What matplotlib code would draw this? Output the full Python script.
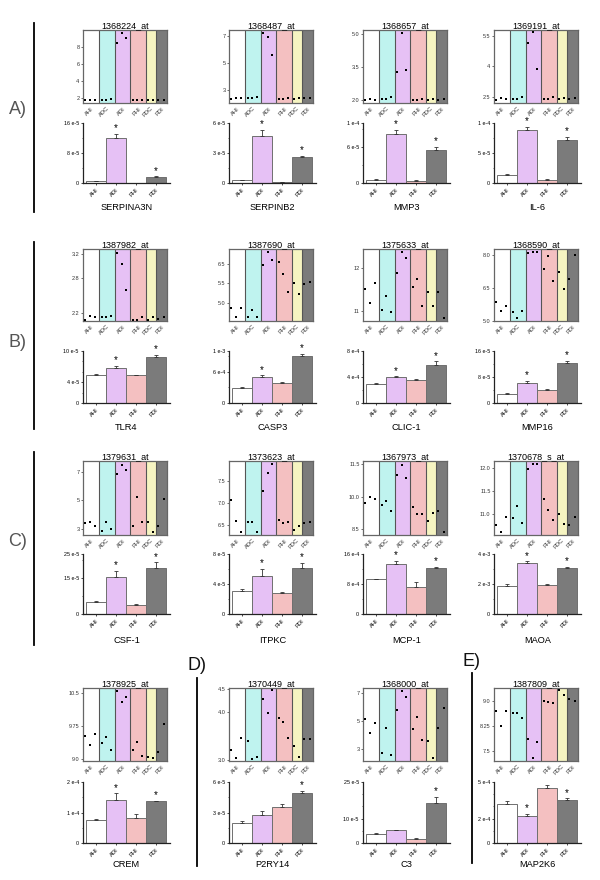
import numpy as np
import matplotlib
matplotlib.use('Agg')
import matplotlib.pyplot as plt
from matplotlib.lines import Line2D
from matplotlib.ticker import AutoMinorLocator

plt.rcParams['font.family'] = ['Liberation Sans', 'DejaVu Sans']

groups = ['AHI', 'ADC', 'ADI', 'PHI', 'PDC', 'PDI']
bar_groups = ['AHI', 'ADI', 'PHI', 'PDI']

probes = ['1368224_at', '1368487_at', '1368657_at', '1369191_at',
          '1387982_at', '1387690_at', '1375633_at', '1368590_at',
          '1379631_at', '1373623_at', '1367973_at', '1370678_s_at',
          '1378925_at', '1370449_at', '1368000_at', '1387809_at']
genes = ['SERPINA3N', 'SERPINB2', 'MMP3', 'IL-6',
         'TLR4', 'CASP3', 'CLIC-1', 'MMP16',
         'CSF-1', 'ITPKC', 'MCP-1', 'MAOA',
         'CREM', 'P2RY14', 'C3', 'MAP2K6']

# expression values of each sample, one list per group (rows follow genes)
dots_AHI = [[1.8, 1.8, 1.8], [2.3, 2.35, 2.35], [2.0, 2.05, 2.0], [2.35, 2.45, 2.38],
            [2.08, 2.15, 2.12], [4.86, 4.65, 4.86], [11.5, 11.18, 11.63], [5.88, 5.44, 5.69],
            [3.44, 3.47, 3.21], [7.08, 6.59, 6.35], [9.69, 9.97, 9.89], [10.77, 10.63, 10.94],
            [9.52, 9.31, 9.57], [3.2, 3.04, 3.46], [5.1, 4.15, 4.85], [8.72, 8.26, 8.7]]
dots_ADC = [[1.85, 1.85, 1.9], [2.35, 2.35, 2.45], [2.05, 2.05, 2.12], [2.4, 2.4, 2.5],
            [2.12, 2.12, 2.15], [4.65, 4.83, 4.65], [11.02, 11.33, 10.98], [5.4, 5.15, 5.44],
            [2.88, 3.47, 2.98], [6.58, 6.58, 6.35], [9.6, 9.78, 9.32], [10.93, 11.18, 10.81],
            [9.35, 9.5, 9.19], [3.39, 3.02, 3.06], [2.66, 4.47, 2.54], [8.66, 8.66, 8.51]]
dots_ADI = [[8.5, 9.67, 9.05], [7.19, 6.93, 5.55], [3.28, 5.08, 3.38], [5.14, 5.66, 3.87],
            [3.23, 3.03, 2.59], [5.97, 6.31, 6.09], [11.87, 12.36, 12.23], [8.07, 8.13, 8.13],
            [6.86, 7.49, 7.14], [7.28, 7.69, 7.89], [10.99, 11.48, 10.87], [11.97, 12.07, 12.07],
            [10.54, 10.3, 10.4], [4.29, 3.99, 4.47], [5.8, 7.17, 6.7], [7.88, 7.29, 7.78]]
dots_PHI = [[1.8, 1.8, 1.8], [2.3, 2.3, 2.4], [2.0, 2.0, 2.05], [2.4, 2.42, 2.48],
            [2.07, 2.08, 2.13], [6.05, 5.73, 5.29], [11.54, 11.74, 11.1], [7.37, 7.94, 6.82],
            [3.23, 5.23, 3.47], [6.61, 6.55, 6.58], [9.52, 9.2, 9.2], [11.33, 11.09, 10.89],
            [9.21, 9.39, 9.06], [3.89, 3.79, 3.45], [4.4, 5.27, 3.63], [9.0, 8.98, 8.94]]
dots_PDC = [[1.8, 1.85], [2.3, 2.4], [2.0, 2.05], [2.38, 2.45],
            [2.08, 2.12], [5.5, 5.22], [11.43, 11.11], [7.21, 6.46],
            [3.47, 2.77], [6.39, 6.48], [8.85, 9.25], [11.01, 10.8],
            [9.04, 9.01], [3.29, 3.05], [3.51, 2.3], [9.33, 9.19]]
dots_PDI = [[1.8, 1.8], [2.35, 2.35], [2.0, 2.05], [2.4, 2.43],
            [2.1, 2.12], [5.48, 5.54], [11.43, 10.82], [6.9, 7.97],
            [3.23, 5.09], [6.55, 6.58], [9.32, 8.38], [10.78, 10.95],
            [9.16, 9.8], [3.44, 3.44], [4.45, 5.95], [9.08, 9.0]]

dot_ylim = [(1.46, 9.98), (2.0, 7.44), (1.85, 5.2), (2.2, 5.78),
            (2.06, 3.29), (4.54, 6.375), (10.76, 12.43), (5.0, 8.26),
            (2.58, 7.77), (6.28, 7.96), (8.22, 11.65), (10.56, 12.14),
            (8.95, 10.61), (2.97, 4.52), (2.1, 7.36), (7.21, 9.4)]
dot_ticks = [[2, 4, 6, 8], [3, 5, 7], [2.0, 3.5, 5.0], [2.5, 4, 5.5],
             [2.2, 2.8, 3.2], [5.0, 5.5, 6.0], [11, 12], [5.0, 6.5, 8.0],
             [3, 5, 7], [6.5, 7.0, 7.5], [8.5, 10.0, 11.5], [11.0, 11.5, 12.0],
             [9.0, 9.75, 10.5], [3.0, 4.0, 4.5], [3, 5, 7], [7.5, 8.25, 9.0]]
dot_tick_labels = [['2', '4', '6', '8'], ['3', '5', '7'], ['2.0', '3.5', '5.0'], ['2.5', '4', '5.5'],
                   ['2.2', '2.8', '3.2'], ['5.0', '5.5', '6.5'], ['11', '12'], ['5.0', '6.5', '8.0'],
                   ['3', '5', '7'], ['6.5', '7.0', '7.5'], ['8.5', '10.0', '11.5'], ['11.0', '11.5', '12.0'],
                   ['9.0', '9.75', '10.5'], ['3.0', '4.0', '4.5'], ['3', '5', '7'], ['7.5', '8.25', '9.0']]

# qPCR means (AHI, ADI, PHI, PDI) and upper error
bar_mean = [[0.6e-5, 12.1e-5, 0.1e-5, 1.5e-5], [0.27e-5, 4.68e-5, 0.1e-5, 2.58e-5],
            [0.55e-5, 8.2e-5, 0.4e-5, 5.55e-5], [1.32e-5, 8.85e-5, 0.57e-5, 7.2e-5],
            [5.4e-5, 6.7e-5, 5.3e-5, 8.8e-5], [2.85e-4, 5.0e-4, 3.85e-4, 9.05e-4],
            [2.97e-4, 4.02e-4, 3.54e-4, 5.86e-4], [2.84e-5, 6.2e-5, 3.87e-5, 12.2e-5],
            [4.97e-5, 15.3e-5, 3.73e-5, 19.1e-5], [3.1e-5, 5.1e-5, 2.8e-5, 6.15e-5],
            [9.27e-4, 13.3e-4, 7.26e-4, 12.3e-4], [1.86e-3, 3.43e-3, 1.92e-3, 3.05e-3],
            [0.765e-4, 1.41e-4, 0.83e-4, 1.38e-4], [1.98e-5, 2.77e-5, 3.54e-5, 4.93e-5],
            [3.55e-5, 5.26e-5, 1.7e-5, 16.3e-5], [3.2e-4, 2.22e-4, 4.5e-4, 3.54e-4]]
bar_err = [[0.05e-5, 0.9e-5, 0.02e-5, 0.27e-5], [0.03e-5, 0.62e-5, 0.02e-5, 0.17e-5],
           [0.2e-5, 0.6e-5, 0.05e-5, 0.45e-5], [0.23e-5, 0.55e-5, 0.08e-5, 0.5e-5],
           [0.1e-5, 0.5e-5, 0.1e-5, 0.4e-5], [0.15e-4, 0.3e-4, 0.25e-4, 0.4e-4],
           [0.13e-4, 0.08e-4, 0.22e-4, 0.54e-4], [0.16e-5, 0.6e-5, 0.53e-5, 0.8e-5],
           [0.43e-5, 2.7e-5, 0.37e-5, 2.4e-5], [0.2e-5, 0.88e-5, 0.1e-5, 0.7e-5],
           [0.13e-4, 0.8e-4, 1.34e-4, 0.3e-4], [0.11e-3, 0.08e-3, 0.11e-3, 0.11e-3],
           [0.035e-4, 0.22e-4, 0.11e-4, 0.01e-4], [0.16e-5, 0.39e-5, 0.26e-5, 0.23e-5],
           [0.43e-5, 0.24e-5, 0.4e-5, 2.45e-5], [0.26e-4, 0.17e-4, 0.28e-4, 0.11e-4]]
bar_star = [[0, 1, 0, 1]] * 12 + [[0, 1, 0, 1], [0, 0, 0, 1], [0, 0, 0, 1], [0, 1, 0, 1]]

bar_ticks = [[0, 8e-5, 16e-5], [0, 3e-5, 6e-5], [0, 6e-5, 1e-4], [0, 5e-5, 1e-4],
             [0, 4e-5, 10e-5], [0, 6e-4, 1e-3], [0, 4e-4, 8e-4], [0, 8e-5, 16e-5],
             [0, 15e-5, 25e-5], [0, 4e-5, 8e-5], [0, 8e-4, 16e-4], [0, 2e-3, 4e-3],
             [0, 1e-4, 2e-4], [0, 3e-5, 6e-5], [0, 10e-5, 25e-5], [0, 2e-4, 5e-4]]
bar_tick_labels = [['0', '8 e-5', '16 e-5'], ['0', '3 e-5', '6 e-5'], ['0', '6 e-5', '1 e-4'], ['0', '5 e-5', '1 e-4'],
                   ['0', '4 e-5', '10 e-5'], ['0', '6 e-4', '1 e-3'], ['0', '4 e-4', '8 e-4'], ['0', '8 e-5', '16 e-5'],
                   ['0', '15 e-5', '25 e-5'], ['0', '4 e-5', '8 e-5'], ['0', '8 e-4', '16 e-4'], ['0', '2 e-3', '4 e-3'],
                   ['0', '1 e-4', '2 e-4'], ['0', '3 e-5', '6 e-5'], ['0', '10 e-5', '25 e-5'], ['0', '2 e-4', '5 e-4']]

band_colors = ['white', '#bff3ef', '#e6c1f5', '#f4c0c1', '#f6f4c1', '#7b7b7b']
bar_colors = ['white', '#e6c1f5', '#f4c0c1', '#7b7b7b']
band_w = [48, 47, 45, 47, 28, 34]
dot_frac = {3: [0.15, 0.45, 0.75], 2: [0.22, 0.7]}

W, H = 600, 880
col_x = [83, 229, 363, 494]
dot_top = [30, 249, 461, 688]
dot_bot = [103, 321, 535, 761]
bar_top = [123, 351, 554, 782]
bar_bot = [183, 403, 614, 843]
label_y = [208, 428, 640, 864]

fig = plt.figure(figsize=(W / 100, H / 100), dpi=100)


def px_axes(x0, y0, x1, y1):
    return fig.add_axes([x0 / W, 1 - y1 / H, (x1 - x0) / W, (y1 - y0) / H])


edges = np.concatenate([[0], np.cumsum(band_w)])
for i in range(len(genes)):
    r, c = i // 4, i % 4
    x0 = col_x[c]

    # microarray dot plot
    ax = px_axes(x0, dot_top[r], x0 + 84, dot_bot[r])
    vals = [dots_AHI[i], dots_ADC[i], dots_ADI[i], dots_PHI[i], dots_PDC[i], dots_PDI[i]]
    for g in range(6):
        ax.axvspan(edges[g], edges[g + 1], color=band_colors[g], lw=0, zorder=0)
        xs = edges[g] + np.array(dot_frac[len(vals[g])]) * band_w[g]
        ax.plot(xs, vals[g], 's', ms=1.5, color='black', mew=0, zorder=3)
    for e in edges[1:-1]:
        ax.axvline(e, color='#555555', lw=0.8, zorder=2)
    ax.set_xlim(0, edges[-1])
    ax.set_ylim(dot_ylim[i])
    ax.set_yticks(dot_ticks[i])
    ax.set_yticklabels(dot_tick_labels[i])
    ax.set_xticks((edges[:-1] + edges[1:]) / 2)
    ax.set_xticklabels(groups, rotation=45, ha='right', rotation_mode='anchor')
    ax.tick_params(axis='y', length=1.5, width=0.5, labelsize=4, pad=1, colors='#333333')
    ax.tick_params(axis='x', length=0, labelsize=4.2, pad=2, colors='#333333')
    for s in ax.spines.values():
        s.set_color('#666666')
        s.set_linewidth(0.9)
    ax.set_title(probes[i], fontsize=6.5, pad=1.5)

    # qPCR bars
    bx = px_axes(x0, bar_top[r], x0 + 87, bar_bot[r])
    x = np.arange(4)
    bx.bar(x, bar_mean[i], width=1.0, color=bar_colors, edgecolor='#6f6f6f', lw=0.7)
    bx.errorbar(x, bar_mean[i], yerr=[np.zeros(4), bar_err[i]], fmt='none',
                ecolor='#333333', elinewidth=0.6, capsize=1.2, capthick=0.6)
    for k in range(4):
        if bar_star[i][k]:
            bx.annotate('*', (k, bar_mean[i][k] + bar_err[i][k]), xytext=(0, 0.5),
                        textcoords='offset points', ha='center', va='bottom', fontsize=7)
    bx.set_xlim(-0.67, 3.72)
    bx.set_ylim(0, bar_ticks[i][-1])
    bx.set_yticks(bar_ticks[i])
    bx.set_yticklabels(bar_tick_labels[i])
    bx.yaxis.set_minor_locator(AutoMinorLocator(2))
    bx.set_xticks(x)
    bx.set_xticklabels(bar_groups, rotation=45, ha='right', rotation_mode='anchor')
    bx.tick_params(axis='y', which='major', length=1.5, width=0.5, labelsize=3.9, pad=1.5)
    bx.tick_params(axis='x', which='major', length=1.5, width=0.5, labelsize=4.2, pad=1.5)
    bx.tick_params(axis='y', which='minor', length=1, width=0.4)
    bx.spines['top'].set_visible(False)
    bx.spines['right'].set_visible(False)
    for s in ['left', 'bottom']:
        bx.spines[s].set_linewidth(0.9)
        bx.spines[s].set_color('#222222')

    fig.text((x0 + 43.5) / W, 1 - label_y[r] / H, genes[i], ha='center', va='center', fontsize=6.7)

# section letters and separator lines
letters = [('A)', 18, 109, '#555555'), ('B)', 18, 342, '#555555'), ('C)', 18, 541, '#555555'),
           ('D)', 197, 665, '#111111'), ('E)', 471, 661, '#111111')]
for txt, lx, ly, col in letters:
    fig.text(lx / W, 1 - ly / H, txt, ha='center', va='center', fontsize=13, color=col)

seps = [(34, 23, 212), (34, 242, 429), (34, 452, 645), (197, 678, 866), (472, 673, 863)]
for sx, sy0, sy1 in seps:
    fig.add_artist(Line2D([sx / W, sx / W], [1 - sy0 / H, 1 - sy1 / H],
                          transform=fig.transFigure, color='black', lw=1.3))

fig.savefig('out.png', dpi=100)
